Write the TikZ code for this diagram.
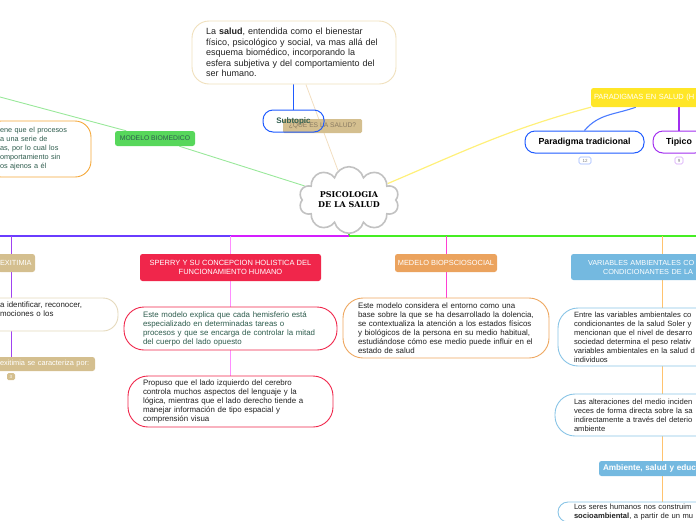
\documentclass[tikz,border=0pt]{standalone}
\usepackage{fontspec}
\setmainfont{Liberation Sans}
\newfontfamily\cloudfont{DejaVu Serif}
\usetikzlibrary{shapes.symbols,backgrounds,calc}

\definecolor{topc}{HTML}{F0E0BC}
\definecolor{tanline}{HTML}{F2DEC0}
\definecolor{bluec}{HTML}{1F5BFF}
\definecolor{dgreen}{HTML}{2F5D4E}
\definecolor{tanc}{HTML}{D4BF8F}
\definecolor{quesc}{HTML}{8A7B62}
\definecolor{cloudc}{HTML}{C2C2C2}
\definecolor{greenc}{HTML}{57D75B}
\definecolor{greenline}{HTML}{99E89A}
\definecolor{orangec}{HTML}{F5A83A}
\definecolor{orangebox}{HTML}{EEA75F}
\definecolor{orangetag}{HTML}{EBA35E}
\definecolor{yellowc}{HTML}{FFE627}
\definecolor{yellowline}{HTML}{FFF07A}
\definecolor{purplec}{HTML}{A22FEF}
\definecolor{redc}{HTML}{F0264B}
\definecolor{bluetag}{HTML}{74B9E0}
\definecolor{bluebox}{HTML}{88C4E6}
\definecolor{busviolet}{HTML}{6A3CFF}
\definecolor{busmag}{HTML}{D41EFF}
\definecolor{busgreen}{HTML}{45EE23}
\definecolor{exitline}{HTML}{A043F0}
\definecolor{sperryline}{HTML}{FF8CFF}
\definecolor{medeloline}{HTML}{FF3FD2}
\definecolor{varsline}{HTML}{FFC36E}
\definecolor{inkc}{HTML}{222222}

\begin{document}
\begin{tikzpicture}[x=1pt,y=-1pt,
    note/.style={draw,fill=white,rounded corners=16pt,line width=0.9pt,align=left,inner sep=0pt,text=inkc,font=\fontsize{7.9}{9}\selectfont},
    tag/.style={rounded corners=2.5pt,inner sep=0pt,text=white,align=center,font=\fontsize{7.4}{9}\selectfont},
    pill/.style={draw,fill=white,rounded corners=10pt,line width=1pt,inner sep=0pt,minimum height=22pt,font=\bfseries\fontsize{8.8}{10}\selectfont},
    badge/.style={draw,rounded corners=1.5pt,inner sep=0pt,minimum width=#1,minimum height=7pt,line width=0.6pt,font=\fontsize{4.5}{5}\selectfont},
    bus/.style={line width=1.6pt},
    drop/.style={line width=1pt}]
  \useasboundingbox (0,0) rectangle (696,520);
  \clip (0,0) rectangle (696,520);

  \node[note,draw=topc,rounded corners=17pt,text width=176pt,minimum width=204pt,minimum height=63pt,font=\fontsize{9}{10.5}\selectfont] (salud) at (294,52.5)
    {La \textbf{salud}, entendida como el bienestar\\ físico, psicológico y social, va mas allá del\\ esquema biomédico, incorporando la\\ esfera subjetiva y del comportamiento del\\ ser humano.};
  \node[tag,fill=tanc,text=quesc,minimum width=79pt,minimum height=14pt,rounded corners=1.5pt,font=\fontsize{6.7}{8}\selectfont] (ques) at (322.5,126) {¿QUE ES LA SALUD?};
  \node[pill,draw=bluec,fill=none,text=dgreen,minimum width=61pt,font=\bfseries\fontsize{8}{10}\selectfont] (subt) at (293.5,121) {Subtopic};

  \node[cloud,cloud puffs=10,aspect=1.8,draw=cloudc,line width=1.6pt,fill=white,minimum width=100pt,minimum height=56pt,inner sep=0pt,align=center,font=\cloudfont\bfseries\fontsize{8}{10}\selectfont] (psico) at (349,200) {PSICOLOGIA\\DE LA SALUD};

  \node[tag,fill=greenc,text=dgreen,minimum width=80pt,minimum height=15pt,font=\fontsize{6.8}{8}\selectfont] (bio) at (155,138.5) {MODELO BIOMEDICO};
  \node[note,draw=orangec,text=dgreen,text width=76pt,minimum width=106pt,minimum height=56pt,font=\fontsize{7.3}{9}\selectfont] (biodef) at (38,149)
    {ene que el procesos\\ a una serie de\\ as, por lo cual los\\ omportamiento sin\\ os ajenos a él};
  \coordinate (bioL) at (0,97);

  \node[tag,fill=yellowc,text width=110pt,align=left,minimum width=116pt,minimum height=19pt,font=\fontsize{7.5}{9}\selectfont] (para) at (649,97.5) {PARADIGMAS EN SALUD (H};
  \node[pill,draw=bluec,minimum width=119pt] (partrad) at (584.5,142) {Paradigma tradicional};
  \node[pill,draw=purplec,minimum width=52pt] (tipico) at (679,142) {Tipico};
  \node[badge=12pt,draw=bluec!45,text=gray] (b12) at (585,160.5) {12};
  \node[badge=8pt,draw=purplec!45,text=gray] (b9) at (679,160.5) {9};

  \node[tag,fill=tanc,text width=33pt,align=left,minimum width=37pt,minimum height=18pt] (exit) at (16.5,263) {EXITIMIA};
  \node[note,draw=tanc!60,text width=100pt,minimum width=136pt,minimum height=33pt,rounded corners=15pt] (exitdef) at (50,314.5)
    {a identificar, reconocer,\\ mociones o los\\ \strut};
  \node[tag,fill=tanc,text width=92pt,align=left,minimum width=98pt,minimum height=14pt] (exitcar) at (46,364) {exitimia se caracteriza por:};
  \node[badge=8pt,fill=tanc,draw=none,text=white] (b3) at (11,376.5) {3};

  \node[tag,fill=redc,minimum width=181pt,minimum height=27pt,font=\fontsize{7.5}{9}\selectfont] (sperry) at (230.5,267.5) {SPERRY Y SU CONCEPCION HOLISTICA DEL\\FUNCIONAMIENTO HUMANO};
  \node[note,draw=redc,text=dgreen,text width=175pt,minimum width=213pt,minimum height=43pt,rounded corners=20pt] (sperryA) at (230.5,328.5)
    {Este modelo explica que cada hemisferio está\\ especializado en determinadas tareas o\\ procesos y que se encarga de controlar la mitad\\ del cuerpo del lado opuesto};
  \node[note,draw=redc,text width=175pt,minimum width=205pt,minimum height=51pt,rounded corners=20pt] (sperryB) at (230.5,401.5)
    {Propuso que el lado izquierdo del cerebro\\ controla muchos aspectos del lenguaje y la\\ lógica, mientras que el lado derecho tiende a\\ manejar información de tipo espacial y\\ comprensión visua};

  \node[tag,fill=orangetag,minimum width=102pt,minimum height=18pt] (medelo) at (446,263) {MEDELO BIOPSCIOSOCIAL};
  \node[note,draw=orangebox,text width=176pt,minimum width=206pt,minimum height=60pt,rounded corners=20pt] (medeloA) at (446,328)
    {Este modelo considera el entorno como una\\ base sobre la que se ha desarrollado la dolencia,\\ se contextualiza la atención a los estados físicos\\ y biológicos de la persona en su medio habitual,\\ estudiándose cómo ese medio puede influir en el\\ estado de salud};

  \node[tag,fill=bluetag,text width=120pt,align=left,minimum width=154pt,minimum height=26pt,font=\fontsize{7.3}{9}\selectfont] (vars) at (648,267)
    {VARIABLES AMBIENTALES CO\\ \hspace*{15pt}CONDICIONANTES DE LA};
  \node[note,draw=bluebox,text width=130pt,minimum width=162pt,minimum height=58pt,rounded corners=20pt,font=\fontsize{7.6}{9}\selectfont] (varsA) at (639,337)
    {Entre las variables ambientales co\\ condicionantes de la salud Soler y\\ mencionan que el nivel de desarro\\ sociedad determina el peso relativ\\ variables ambientales en la salud d\\ individuos};
  \node[note,draw=bluebox,text width=130pt,minimum width=168pt,minimum height=42pt,rounded corners=20pt,font=\fontsize{7.6}{9}\selectfont] (varsB) at (639,415)
    {Las alteraciones del medio inciden\\ veces de forma directa sobre la sa\\ indirectamente a través del deterio\\ ambiente};
  \node[tag,fill=bluetag,text width=100pt,align=left,minimum width=108pt,minimum height=15pt,font=\bfseries\fontsize{8.2}{10}\selectfont] (amb) at (653,468.5) {Ambiente, salud y educ};
  \node[note,draw=bluebox,text width=130pt,minimum width=162pt,minimum height=20pt,rounded corners=10pt,font=\fontsize{7.6}{8.5}\selectfont] (varsC) at (639,512)
    {Los seres humanos nos construim\\ \textbf{socioambiental}, a partir de un mu};

  \coordinate (busL) at (0,236);
  \coordinate (busE) at (11,236);
  \coordinate (busS) at (230.5,236);
  \coordinate (busC) at (349,236);
  \coordinate (busM) at (446,236);
  \coordinate (busV) at (662,236);
  \coordinate (busR) at (696,236);

  \begin{pgfonlayer}{background}
    \draw[bluec,line width=1.3pt] (subt.north |- salud.south) -- (subt.north);
    \draw[tanline,line width=0.8pt] (salud) -- (psico);
    \draw[greenline,line width=0.9pt] (bioL) -- (bio) -- (psico);
    \draw[yellowline,line width=1.2pt] (psico) to[out=23,in=195] (para.south west);
    \draw[bluec!80,line width=1.1pt] (partrad.north) to[out=50,in=200] ($(para.south west)+(45,0)$);
    \draw[purplec,line width=1.1pt] (tipico.north |- para.south) -- (tipico.north);
    \draw[bus,busgreen] (psico.south) -- (busC) -- (busR);
    \draw[bus,busmag] (busC) -- (busS);
    \draw[bus,busviolet] (busS) -- (busL);
    \draw[drop,exitline] (busE) -- (busE |- exit.north)
      (busE |- exit.south) -- (busE |- exitdef.north)
      (busE |- exitdef.south) -- (busE |- exitcar.north);
    \draw[drop,sperryline] (busS) -- (sperry.north) (sperry.south) -- (sperryA.north) (sperryA.south) -- (sperryB.north);
    \draw[drop,medeloline] (busM) -- (medelo.north) (medelo.south) -- (medeloA.north);
    \draw[drop,varsline] (busV) -- (busV |- vars.north)
      (busV |- vars.south) -- (busV |- varsA.north)
      (busV |- varsA.south) -- (busV |- varsB.north)
      (busV |- varsB.south) -- (busV |- amb.north)
      (busV |- amb.south) -- (busV |- varsC.north);
  \end{pgfonlayer}
\end{tikzpicture}
\end{document}
